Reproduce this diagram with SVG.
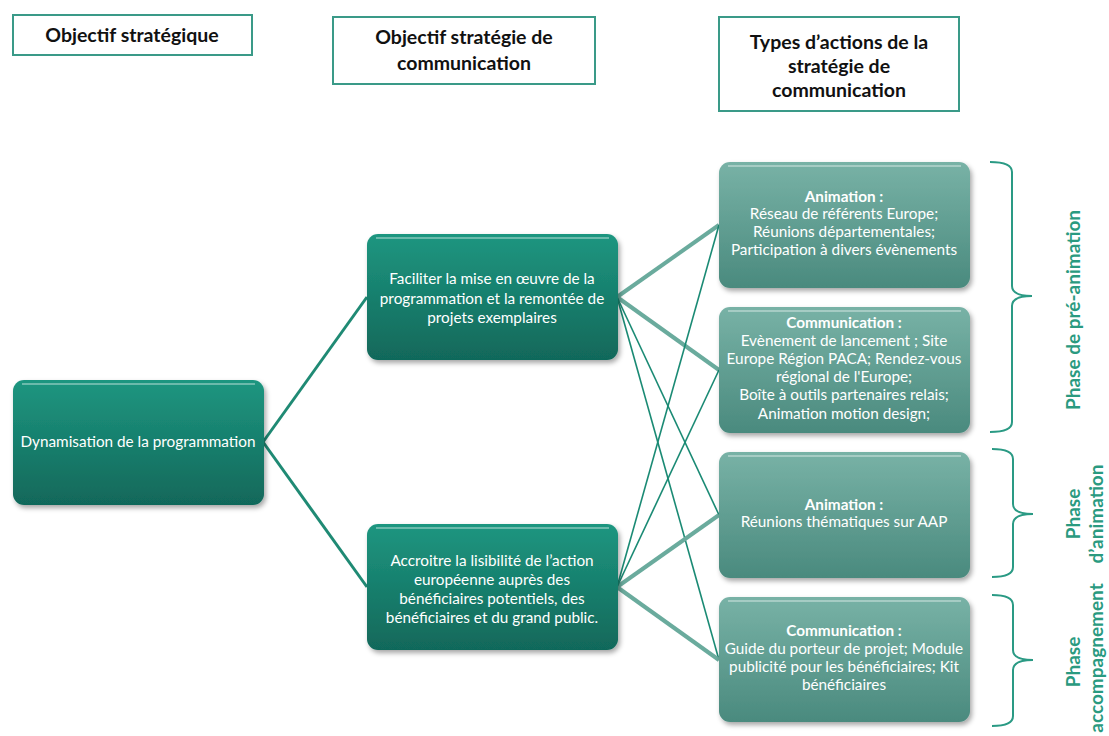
<svg xmlns="http://www.w3.org/2000/svg" width="1109" height="736" viewBox="0 0 1109 736">
<defs>
<linearGradient id="gDark" x1="0" y1="0" x2="0" y2="1">
<stop offset="0" stop-color="#1e9680"/>
<stop offset="1" stop-color="#11685a"/>
</linearGradient>
<linearGradient id="gLight" x1="0" y1="0" x2="0" y2="1">
<stop offset="0" stop-color="#78b2a6"/>
<stop offset="1" stop-color="#4a8a7e"/>
</linearGradient>
<filter id="sh" x="-10%" y="-10%" width="130%" height="130%">
<feDropShadow dx="2" dy="3" stdDeviation="2.5" flood-color="#000" flood-opacity="0.35"/>
</filter>
<style>
.hdr{fill:#fff;stroke:#3a9a88;stroke-width:2}
.ht{font-family:Lato,"Liberation Sans",sans-serif;font-weight:bold;font-size:19.5px;fill:#111;text-anchor:middle}
.dark{fill:url(#gDark);filter:url(#sh)}
.light{fill:url(#gLight);filter:url(#sh)}
.gloss{fill:none;stroke:#ffffff;stroke-opacity:0.35;stroke-width:2}
.nt{font-family:Lato,"Liberation Sans",sans-serif;font-size:15.3px;fill:#fff;text-anchor:middle}
.b{font-weight:bold}
.c1{stroke:#1f8a74;stroke-width:3;fill:none}
.c2{stroke:#6aab9d;stroke-width:4;fill:none}
.c3{stroke:#1a8a74;stroke-width:1.6;fill:none}
.br{stroke:#2a9a84;stroke-width:2;fill:none}
.pt{font-family:Lato,"Liberation Sans",sans-serif;font-weight:bold;font-size:19px;fill:#2a9a80;text-anchor:middle}
</style>
</defs>
<rect width="1109" height="736" fill="#fff"/>

<g id="connectors">
<line class="c1" x1="263" y1="442" x2="367" y2="297"/>
<line class="c1" x1="263" y1="442" x2="367" y2="587"/>
<line class="c2" x1="617" y1="297" x2="719" y2="225"/>
<line class="c2" x1="617" y1="297" x2="719" y2="370"/>
<line class="c3" x1="617" y1="297" x2="719" y2="515"/>
<line class="c3" x1="617" y1="297" x2="719" y2="660"/>
<line class="c2" x1="617" y1="587" x2="719" y2="515"/>
<line class="c2" x1="617" y1="587" x2="719" y2="660"/>
<line class="c3" x1="617" y1="587" x2="719" y2="225"/>
<line class="c3" x1="617" y1="587" x2="719" y2="370"/>
</g>

<g id="hdr1">
<rect class="hdr" x="13" y="15" width="239" height="40"/>
<text class="ht" x="132" y="42">Objectif stratégique</text>
</g>
<g id="hdr2">
<rect class="hdr" x="333" y="17" width="262" height="67"/>
<text class="ht" x="464" y="44">Objectif stratégie de</text>
<text class="ht" x="464" y="70">communication</text>
</g>
<g id="hdr3">
<rect class="hdr" x="719" y="17" width="240" height="94"/>
<text class="ht" x="839" y="49">Types d’actions  de la</text>
<text class="ht" x="839" y="73">stratégie de</text>
<text class="ht" x="839" y="97">communication</text>
</g>

<g id="n_dyn">
<rect class="dark" x="13" y="380" width="251" height="125" rx="11"/>
<path class="gloss" d="M22 384 H255"/>
<text class="nt" x="138" y="447">Dynamisation de la programmation</text>
</g>
<g id="n_fac">
<rect class="dark" x="367" y="234" width="251" height="126" rx="11"/>
<path class="gloss" d="M376 238 H609"/>
<text class="nt" x="492" y="284">Faciliter la mise en œuvre de la</text>
<text class="nt" x="492" y="304">programmation et la remontée de</text>
<text class="nt" x="492" y="323">projets exemplaires</text>
</g>
<g id="n_acc">
<rect class="dark" x="367" y="524" width="251" height="126" rx="11"/>
<path class="gloss" d="M376 528 H609"/>
<text class="nt" x="492" y="566">Accroitre la lisibilité de l’action</text>
<text class="nt" x="492" y="585">européenne auprès des</text>
<text class="nt" x="492" y="604">bénéficiaires potentiels, des</text>
<text class="nt" x="492" y="623">bénéficiaires et du grand public.</text>
</g>

<g id="r_anim1">
<rect class="light" x="719" y="162" width="251" height="126" rx="11"/>
<path class="gloss" d="M728 166 H961"/>
<text class="nt b" x="844" y="202">Animation :</text>
<text class="nt" x="844" y="219">Réseau de référents Europe;</text>
<text class="nt" x="844" y="237">Réunions départementales;</text>
<text class="nt" x="844" y="255">Participation à divers évènements</text>
</g>
<g id="r_comm1">
<rect class="light" x="719" y="307" width="251" height="126" rx="11"/>
<path class="gloss" d="M728 311 H961"/>
<text class="nt b" x="844" y="328">Communication :</text>
<text class="nt" x="844" y="346">Evènement de lancement ; Site</text>
<text class="nt" x="844" y="364">Europe Région PACA; Rendez-vous</text>
<text class="nt" x="844" y="382">régional de l'Europe;</text>
<text class="nt" x="844" y="400">Boîte à outils partenaires relais;</text>
<text class="nt" x="844" y="419">Animation motion design;</text>
</g>
<g id="r_anim2">
<rect class="light" x="719" y="452" width="251" height="126" rx="11"/>
<path class="gloss" d="M728 456 H961"/>
<text class="nt b" x="844" y="510">Animation :</text>
<text class="nt" x="844" y="527">Réunions thématiques sur AAP</text>
</g>
<g id="r_comm2">
<rect class="light" x="719" y="597" width="251" height="125" rx="11"/>
<path class="gloss" d="M728 601 H961"/>
<text class="nt b" x="844" y="636">Communication :</text>
<text class="nt" x="844" y="654">Guide du porteur de projet; Module</text>
<text class="nt" x="844" y="672">publicité pour les bénéficiaires; Kit</text>
<text class="nt" x="844" y="690">bénéficiaires</text>
</g>

<g id="phase1">
<path class="br" d="M990 162 Q1012 162 1012 172 V286 Q1012 296 1032 296 Q1012 296 1012 306 V422 Q1012 432 990 432"/>
<text class="pt" transform="translate(1080 310) rotate(-90)">Phase de pré-animation</text>
</g>
<g id="phase2">
<path class="br" d="M992 449 Q1013 449 1013 459 V504 Q1013 514 1033 514 Q1013 514 1013 524 V567 Q1013 577 992 577"/>
<text class="pt" transform="translate(1080 514) rotate(-90)">Phase</text>
<text class="pt" transform="translate(1103 514) rotate(-90)">d’animation</text>
</g>
<g id="phase3">
<path class="br" d="M992 595 Q1013 595 1013 605 V650 Q1013 660 1033 660 Q1013 660 1013 670 V716 Q1013 726 992 726"/>
<text class="pt" transform="translate(1080 662) rotate(-90)">Phase</text>
<text class="pt" transform="translate(1103 658) rotate(-90)">accompagnement</text>
</g>
</svg>
